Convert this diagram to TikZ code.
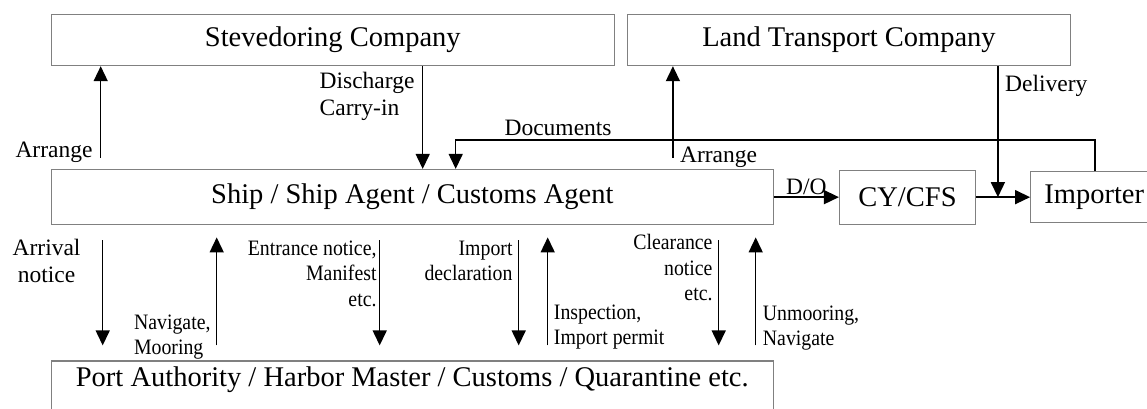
\documentclass[tikz,border=0pt]{standalone}
\usepackage{fontspec}
\setmainfont{Liberation Serif}
\newfontfamily\narrowfont[FakeStretch=0.9]{Liberation Serif}
\usepackage{xcolor}
\usetikzlibrary{arrows.meta,positioning}
\definecolor{BoxGrey}{HTML}{808080}
\tikzset{
  box/.style  = {draw=BoxGrey, line width=1.2pt, inner sep=0pt,
                 font=\fontsize{28.5}{32}\selectfont, minimum height=51pt},
  flow/.style = {-{Triangle[length=15pt,width=14pt]}, line width=1.5pt},
  lbl/.style  = {inner sep=0pt, font=\fontsize{23.5}{27}\selectfont},
  nlbl/.style = {inner sep=0pt, font=\narrowfont\fontsize{22}{25.5}\selectfont},
}
\begin{document}
\begin{tikzpicture}
  \useasboundingbox (0,0) rectangle (1147pt,-409pt);
  \clip (0,0) rectangle (1147pt,-409pt);

  \node[box, anchor=north west, minimum width=563pt] (stev) at (50.7pt,-14pt) {Stevedoring Company};
  \node[box, minimum width=443pt, right=12pt of stev] (land) {Land Transport Company};

  \node[box, minimum width=722pt, minimum height=55.3pt,
        below=102.7pt of stev.south west, anchor=north west] (ship) {Ship / Ship Agent / Customs Agent};
  \node[box, minimum width=136pt, minimum height=54pt, right=65pt of ship] (cy) {CY/CFS};
  \node[box, minimum width=127pt, right=54pt of cy] (imp) {Importer};

  \node[box, minimum width=722pt, text height=22pt, text depth=33pt, inner ysep=3pt,
        below=135pt of ship.south west, anchor=north west] (port)
    {Port Authority / Harbor Master / Customs / Quarantine etc.};

  \coordinate (arrL) at ([xshift=50pt,yshift=11pt]ship.north west);
  \draw[flow] (arrL) -- (arrL |- stev.south);
  \node[lbl, anchor=base east] (arrLtxt) at ([xshift=-8pt]arrL) {Arrange};

  \coordinate (disch) at ([xshift=372pt]stev.south west);
  \draw[flow] (disch) -- (disch |- ship.north);
  \node[lbl, align=left, anchor=north east] (dischtxt) at ([xshift=-8pt,yshift=-6pt]disch)
    {Discharge\\Carry-in};

  \coordinate (docR) at ([xshift=65pt,yshift=31pt]imp.north west);
  \draw[flow] ([xshift=65pt]imp.north west) -- (docR) -| ([xshift=405pt]ship.north west);
  \node[lbl, anchor=base] (doctxt) at ([xshift=-537pt,yshift=5pt]docR) {Documents};

  \coordinate (arrRx) at ([xshift=46pt]land.south west);
  \coordinate (arrR) at (arrRx |- arrL);
  \draw[flow] (arrR) -- (arrRx);
  \node[lbl, anchor=base west] (arrRtxt) at ([xshift=7pt,yshift=-5pt]arrR) {Arrange};

  \coordinate (deliv) at ([xshift=371pt]land.south west);
  \draw[flow] (deliv) -- (deliv |- imp.west);
  \node[lbl, anchor=base west] (delivtxt) at ([xshift=7pt,yshift=-25pt]deliv) {Delivery};

  \draw[flow] (ship) -- node[lbl, anchor=base, yshift=3pt] (dotxt) {D/O} (cy);
  \draw[flow] (cy) -- (imp);

  \coordinate (arriv) at ([xshift=52pt]ship.south west);
  \draw[flow, shorten <=15pt, shorten >=15pt] (arriv) -- (arriv |- port.north);
  \node[lbl, align=center, anchor=north east] (arrivtxt) at ([xshift=-22pt,yshift=-14pt]arriv)
    {Arrival\\notice};

  \coordinate (navig) at ([xshift=166pt]ship.south west);
  \draw[flow, shorten <=15pt, shorten >=12pt] (navig |- port.north) -- (navig);
  \node[nlbl, align=left, anchor=north east] (navigtxt) at ([xshift=-6pt,yshift=-89pt]navig)
    {Navigate,\\Mooring};

  \coordinate (entr) at ([xshift=329pt]ship.south west);
  \draw[flow, shorten <=15pt, shorten >=15pt] (entr) -- (entr |- port.north);
  \node[nlbl, align=right, anchor=north east] (entrtxt) at ([xshift=-3pt,yshift=-15pt]entr)
    {Entrance notice,\\Manifest\\etc.};

  \coordinate (impd) at ([xshift=468pt]ship.south west);
  \draw[flow, shorten <=15pt, shorten >=15pt] (impd) -- (impd |- port.north);
  \node[nlbl, align=right, anchor=north east] (impdtxt) at ([xshift=-6pt,yshift=-15pt]impd)
    {Import\\declaration};

  \coordinate (insp) at ([xshift=497pt]ship.south west);
  \draw[flow, shorten <=15pt, shorten >=12pt] (insp |- port.north) -- (insp);
  \node[nlbl, align=left, anchor=north west] (insptxt) at ([xshift=6pt,yshift=-79pt]insp)
    {Inspection,\\Import permit};

  \coordinate (clear) at ([xshift=668pt]ship.south west);
  \draw[flow, shorten <=15pt, shorten >=15pt] (clear) -- (clear |- port.north);
  \node[nlbl, align=right, anchor=north east] (cleartxt) at ([xshift=-6pt,yshift=-9pt]clear)
    {Clearance\\notice\\etc.};

  \coordinate (unmoor) at ([xshift=705pt]ship.south west);
  \draw[flow, shorten <=15pt, shorten >=12pt] (unmoor |- port.north) -- (unmoor);
  \node[nlbl, align=left, anchor=north west] (unmoortxt) at ([xshift=7pt,yshift=-80pt]unmoor)
    {Unmooring,\\Navigate};

\end{tikzpicture}
\end{document}
